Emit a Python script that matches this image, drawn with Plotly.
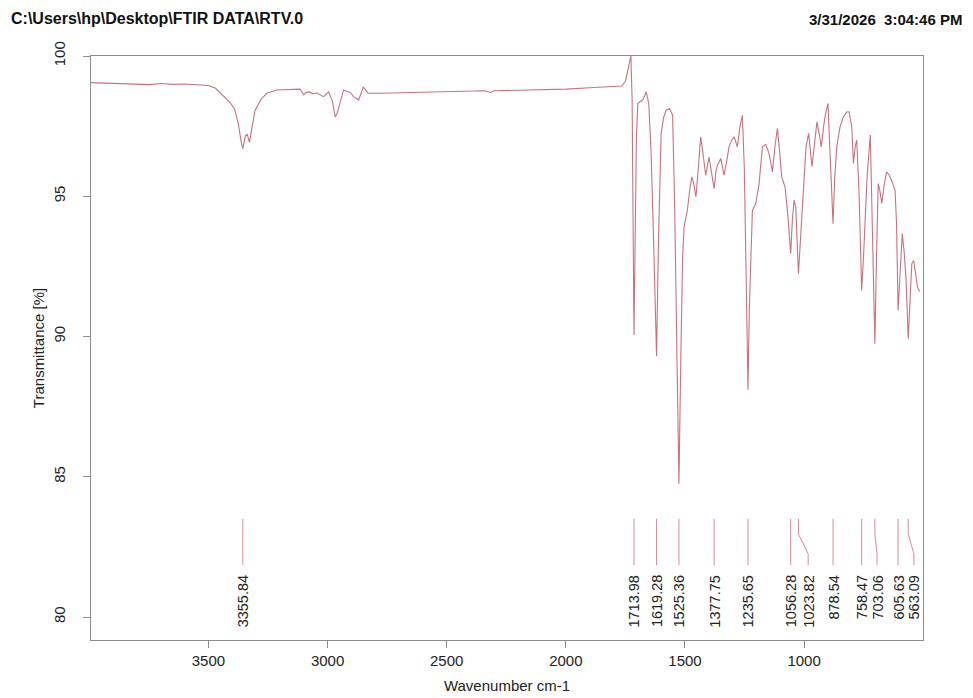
import plotly.graph_objects as go

# ---------------- data ----------------
wavenumber = [3993, 3950, 3900, 3850, 3800, 3750, 3700, 3650, 3600, 3550, 3500, 3470, 3440, 3410,
              3390, 3375, 3362, 3355.84, 3345, 3337, 3328, 3318, 3305, 3280, 3255, 3213, 3150, 3115,
              3101, 3090, 3080, 3060, 3045, 3030, 3017, 2996, 2980, 2968, 2960, 2954, 2940, 2933,
              2920, 2905, 2891, 2870, 2858, 2850, 2840, 2829, 2780, 2700, 2600, 2500, 2400, 2340,
              2318, 2300, 2200, 2100, 2000, 1900, 1800, 1765, 1750, 1740, 1733, 1727, 1722, 1718,
              1713.98, 1709, 1704, 1698, 1678, 1668, 1663, 1652, 1642, 1632, 1619.28, 1611, 1600,
              1590, 1579, 1565, 1552, 1544, 1535, 1525.36, 1517, 1510, 1504, 1490, 1479, 1471, 1462,
              1454, 1444, 1434, 1424, 1413, 1399, 1389, 1377.75, 1370, 1364, 1350, 1336, 1324, 1315,
              1304, 1294, 1280, 1269, 1259, 1251, 1242, 1235.65, 1230, 1222, 1217, 1203, 1189, 1175,
              1161, 1147, 1133, 1122, 1112, 1102, 1094, 1080, 1068, 1056.28, 1049, 1042, 1035,
              1023.82, 1015, 1005, 992, 981, 967, 956, 946, 936, 928, 918, 911, 900, 894, 886,
              878.54, 872, 863, 849, 835, 822, 811, 800, 793, 785, 779, 769, 758.47, 751, 744, 735,
              722, 716, 703.06, 697, 689, 682, 674, 664, 654, 643, 633, 618, 612, 605.63, 597, 588,
              580, 572, 563.09, 556, 548, 540, 532, 524, 515]
transmittance = [99.05, 99.04, 99.03, 99.01, 99.00, 98.98, 99.02, 98.99, 99.00, 98.98, 98.95, 98.85,
                 98.60, 98.35, 98.10, 97.60, 96.90, 96.70, 97.15, 97.20, 96.92, 97.40, 98.05, 98.45,
                 98.67, 98.79, 98.82, 98.82, 98.62, 98.70, 98.72, 98.66, 98.68, 98.60, 98.55, 98.72,
                 98.40, 97.83, 97.95, 98.13, 98.60, 98.79, 98.74, 98.70, 98.55, 98.43, 98.70, 98.90,
                 98.78, 98.67, 98.67, 98.69, 98.71, 98.73, 98.75, 98.76, 98.70, 98.76, 98.78, 98.79,
                 98.82, 98.87, 98.91, 98.93, 99.10, 99.50, 99.85, 100.0, 98.50, 93.00, 90.05, 93.50,
                 97.00, 98.31, 98.43, 98.60, 98.73, 98.31, 96.50, 93.50, 89.30, 93.50, 97.24, 97.80,
                 98.07, 98.13, 97.89, 95.00, 89.50, 84.75, 89.50, 92.80, 93.90, 94.50, 95.30, 95.69,
                 95.40, 94.98, 96.00, 97.12, 96.50, 95.75, 96.40, 95.90, 95.27, 95.90, 96.10, 96.35,
                 95.75, 96.30, 96.76, 97.00, 97.12, 96.76, 97.50, 97.89, 96.00, 91.50, 88.10, 91.00,
                 93.80, 94.50, 94.74, 95.45, 96.76, 96.85, 96.52, 95.87, 96.80, 97.42, 96.50, 95.69,
                 95.33, 94.30, 92.95, 94.20, 94.86, 94.60, 92.24, 93.50, 94.86, 96.76, 97.24, 96.05,
                 96.90, 97.65, 97.20, 96.76, 97.50, 97.89, 98.31, 97.00, 95.60, 94.02, 95.60, 96.76,
                 97.48, 97.83, 98.00, 98.01, 97.48, 96.17, 96.80, 97.00, 95.00, 91.64, 92.80, 94.26,
                 95.80, 97.18, 95.00, 89.74, 92.50, 95.45, 95.20, 94.74, 95.40, 95.87, 95.75, 95.57,
                 95.21, 94.00, 90.93, 92.50, 93.67, 93.00, 92.00, 89.92, 91.50, 92.60, 92.71, 92.20,
                 91.76, 91.60]

peak_labels = ["3355.84", "1713.98", "1619.28", "1525.36", "1377.75", "1235.65", "1056.28",
               "1023.82", "878.54", "758.47", "703.06", "605.63", "563.09"]
peak_positions = [3355.84, 1713.98, 1619.28, 1525.36, 1377.75, 1235.65, 1056.28,
                  1023.82, 878.54, 758.47, 703.06, 605.63, 563.09]
label_positions = [3355.84, 1713.98, 1619.28, 1525.36, 1377.75, 1235.65, 1056.28,
                   983.0, 878.54, 758.47, 694.0, 605.63, 539.0]

x_ticks = [3500, 3000, 2500, 2000, 1500, 1000]
y_ticks = [80, 85, 90, 95, 100]

header_left = "C:\\Users\\hp\\Desktop\\FTIR DATA\\RTV.0"
header_right = "3/31/2026  3:04:46 PM"

# ---------------- style ----------------
W, H = 973, 698
ML, MR, MT, MB = 91, 50, 56, 58
FONT = "Liberation Sans, Arial, sans-serif"
CURVE = "#c8727d"
PEAKLINE = "#d78c95"
AXIS = "#8c8c8c"
TXT = "#222222"

LINE_TOP, LINE_KNEE1, LINE_KNEE2, LINE_BOT = 83.5, 82.96, 82.25, 81.85
LABEL_Y = 81.55


def paper_x(px):
    return (px - ML) / (W - ML - MR)


def paper_y(py):
    return (H - MB - py) / (H - MT - MB)


fig = go.Figure()
fig.add_trace(go.Scatter(x=wavenumber, y=transmittance, mode="lines",
                         line=dict(color=CURVE, width=1.1), hoverinfo="skip"))

for pk, lb, txt in zip(peak_positions, label_positions, peak_labels):
    if abs(pk - lb) < 1e-6:
        xs, ys = [pk, pk], [LINE_TOP, LINE_BOT]
    else:
        xs = [pk, pk, lb, lb]
        ys = [LINE_TOP, LINE_KNEE1, LINE_KNEE2, LINE_BOT]
    fig.add_trace(go.Scatter(x=xs, y=ys, mode="lines",
                             line=dict(color=PEAKLINE, width=1), hoverinfo="skip"))
    fig.add_annotation(x=lb, y=LABEL_Y, xref="x", yref="y", text=txt, showarrow=False,
                       textangle=-90, xanchor="center", yanchor="top",
                       font=dict(family=FONT, size=14.5, color=TXT))

fig.add_annotation(x=paper_x(9), y=paper_y(18), xref="paper", yref="paper", text="<b>" + header_left + "</b>",
                   showarrow=False, xanchor="left", yanchor="middle",
                   font=dict(family=FONT, size=16, color="#111111"))
fig.add_annotation(x=paper_x(964), y=paper_y(20), xref="paper", yref="paper", text="<b>" + header_right + "</b>",
                   showarrow=False, xanchor="right", yanchor="middle",
                   font=dict(family=FONT, size=15, color="#111111"))

fig.update_layout(
    width=W, height=H,
    margin=dict(l=ML, r=MR, t=MT, b=MB),
    plot_bgcolor="white", paper_bgcolor="white",
    showlegend=False,
    xaxis=dict(range=[3993, 501], tickvals=x_ticks, ticktext=[str(v) for v in x_ticks],
               ticks="outside", ticklen=7, tickcolor=AXIS, tickwidth=1,
               showline=True, linecolor=AXIS, linewidth=1, mirror=True,
               showgrid=False, zeroline=False, automargin=False,
               tickfont=dict(family=FONT, size=15, color=TXT),
               title=dict(text="Wavenumber cm-1", font=dict(family=FONT, size=15, color=TXT), standoff=12)),
    yaxis=dict(range=[79.18, 100], tickvals=y_ticks, ticktext=[str(v) for v in y_ticks],
               tickangle=-90, ticks="outside", ticklen=7, tickcolor=AXIS, tickwidth=1,
               showline=True, linecolor=AXIS, linewidth=1, mirror=True,
               showgrid=False, zeroline=False, automargin=False, ticklabelstandoff=12,
               tickfont=dict(family=FONT, size=15, color=TXT),
               title=dict(text="Transmittance [%]", font=dict(family=FONT, size=15, color=TXT), standoff=2)),
)

fig.write_html("out.html")
